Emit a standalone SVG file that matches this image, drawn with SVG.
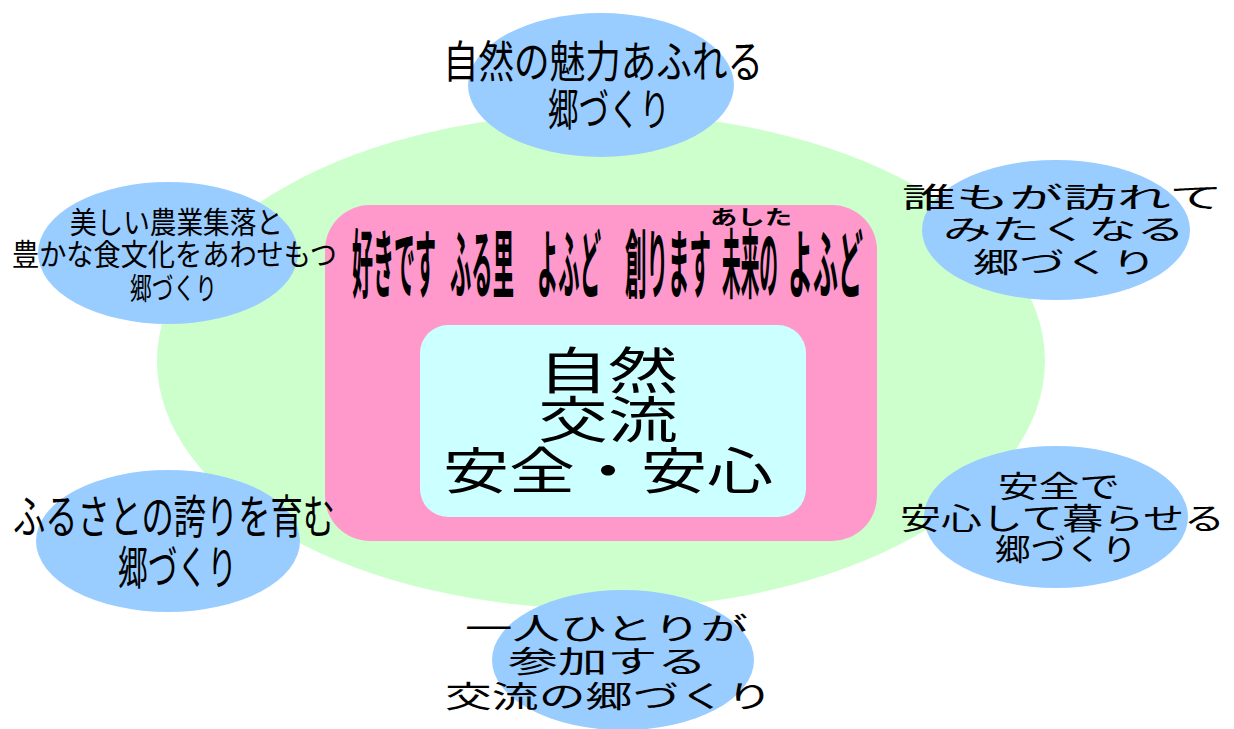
<svg xmlns="http://www.w3.org/2000/svg" width="1234" height="729" viewBox="0 0 1234 729">
<style>
.bg{fill:#ffffff}
.outer{fill:#ccffcc}
.pink{fill:#ff99cc}
.core{fill:#ccffff}
.bubble{fill:#99ccff}
text{font-family:"Noto Sans CJK JP","Noto Sans",sans-serif;fill:#000}
.title{font-weight:bold;font-size:22px}
.ruby{font-weight:bold;font-size:20px}
</style>
<rect class="bg" x="0" y="0" width="1234" height="729"/>
<g id="outer-area">
<ellipse class="outer" cx="601" cy="361" rx="444" ry="248"/>
</g>
<g id="vision-panel">
<rect class="pink" x="325" y="205" width="552" height="336" rx="45"/>
<text class="ruby" x="710" y="225" textLength="82" lengthAdjust="spacingAndGlyphs">あした</text>
<text class="title" transform="translate(352,292) scale(1,3.4)" textLength="84" lengthAdjust="spacingAndGlyphs">好きです</text>
<text class="title" transform="translate(450,292) scale(1,3.4)" textLength="64" lengthAdjust="spacingAndGlyphs">ふる里</text>
<text class="title" transform="translate(537,292) scale(1,3.4)" textLength="64" lengthAdjust="spacingAndGlyphs">よふど</text>
<text class="title" transform="translate(625,292) scale(1,3.4)" textLength="86" lengthAdjust="spacingAndGlyphs">創ります</text>
<text class="title" transform="translate(722,292) scale(1,3.4)" textLength="56" lengthAdjust="spacingAndGlyphs">未来の</text>
<text class="title" transform="translate(788,292) scale(1,3.4)" textLength="75" lengthAdjust="spacingAndGlyphs">よふど</text>
</g>
<g id="core">
<rect class="core" x="420" y="325" width="386" height="192" rx="28"/>
<text x="538" y="389" font-size="50" textLength="140" lengthAdjust="spacingAndGlyphs">自然</text>
<text x="538" y="438" font-size="50" textLength="140" lengthAdjust="spacingAndGlyphs">交流</text>
<text x="443" y="489" font-size="50" textLength="330" lengthAdjust="spacingAndGlyphs">安全・安心</text>
</g>
<g id="connectors"></g>
<g id="node-nature">
<ellipse class="bubble" cx="601" cy="85" rx="133" ry="72"/>
<text x="443" y="78" font-size="44" textLength="320" lengthAdjust="spacingAndGlyphs">自然の魅力あふれる</text>
<text x="548" y="126" font-size="44" textLength="122" lengthAdjust="spacingAndGlyphs">郷づくり</text>
</g>
<g id="node-agri">
<ellipse class="bubble" cx="168" cy="253" rx="130" ry="71"/>
<text x="70" y="233" font-size="30" textLength="213" lengthAdjust="spacingAndGlyphs">美しい農業集落と</text>
<text x="12" y="265" font-size="30" textLength="325" lengthAdjust="spacingAndGlyphs">豊かな食文化をあわせもつ</text>
<text x="130" y="299" font-size="30" textLength="87" lengthAdjust="spacingAndGlyphs">郷づくり</text>
</g>
<g id="node-visit">
<ellipse class="bubble" cx="1056" cy="230" rx="134" ry="70"/>
<text x="902" y="208" font-size="28" textLength="321" lengthAdjust="spacingAndGlyphs">誰もが訪れて</text>
<text x="943" y="240" font-size="28" textLength="242" lengthAdjust="spacingAndGlyphs">みたくなる</text>
<text x="973" y="273" font-size="28" textLength="184" lengthAdjust="spacingAndGlyphs">郷づくり</text>
</g>
<g id="node-safe">
<ellipse class="bubble" cx="1056" cy="517" rx="132" ry="71"/>
<text x="998" y="497" font-size="30" textLength="122" lengthAdjust="spacingAndGlyphs">安全で</text>
<text x="900" y="529" font-size="30" textLength="325" lengthAdjust="spacingAndGlyphs">安心して暮らせる</text>
<text x="995" y="560" font-size="30" textLength="142" lengthAdjust="spacingAndGlyphs">郷づくり</text>
</g>
<g id="node-exchange">
<ellipse class="bubble" cx="623" cy="660" rx="131" ry="70"/>
<text x="465" y="639" font-size="30" textLength="283" lengthAdjust="spacingAndGlyphs">一人ひとりが</text>
<text x="508" y="672" font-size="30" textLength="199" lengthAdjust="spacingAndGlyphs">参加する</text>
<text x="445" y="707" font-size="30" textLength="328" lengthAdjust="spacingAndGlyphs">交流の郷づくり</text>
</g>
<g id="node-pride">
<ellipse class="bubble" cx="168" cy="541" rx="132" ry="71"/>
<text x="13" y="533" font-size="46" textLength="322" lengthAdjust="spacingAndGlyphs">ふるさとの誇りを育む</text>
<text x="118" y="584" font-size="46" textLength="119" lengthAdjust="spacingAndGlyphs">郷づくり</text>
</g>
</svg>
